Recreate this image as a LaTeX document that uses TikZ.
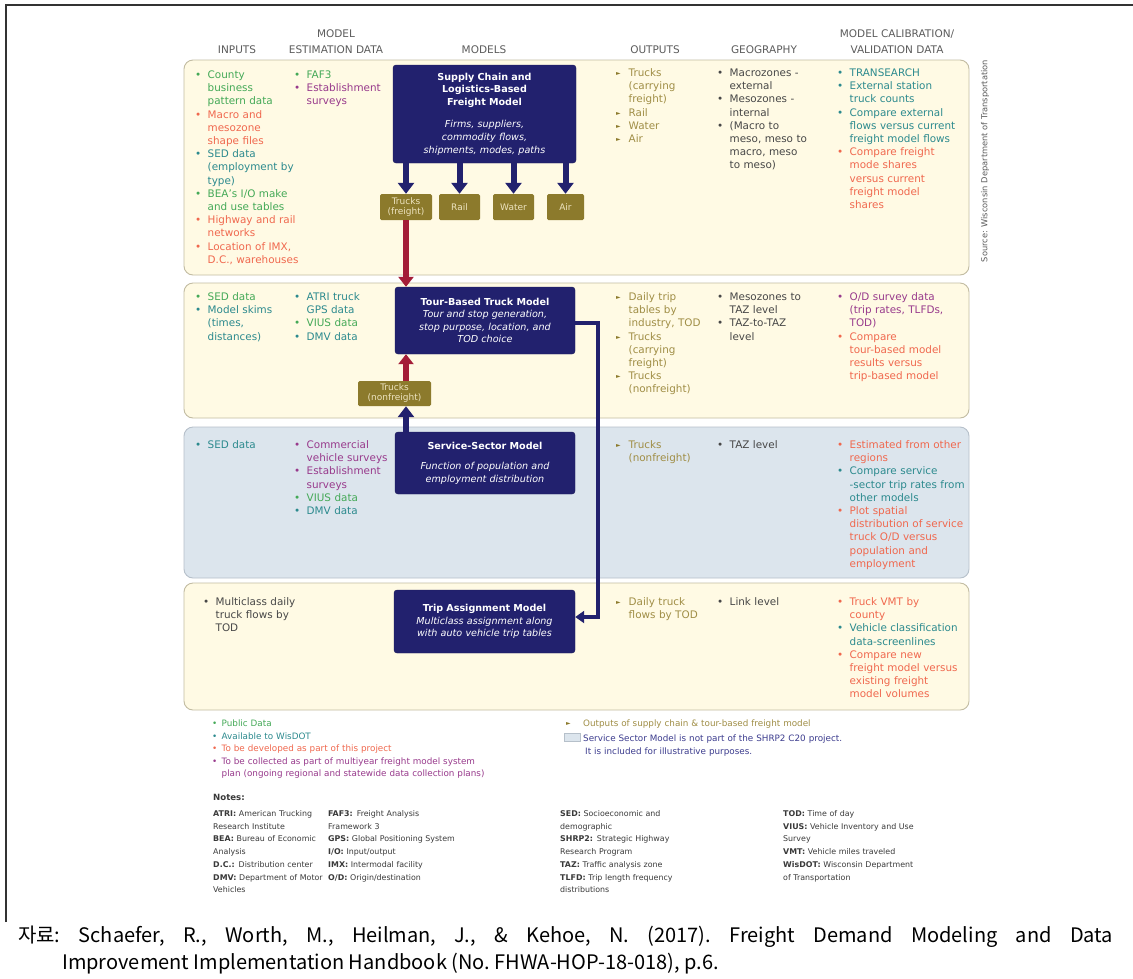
\documentclass[tikz,border=0pt]{standalone}
\usepackage{fontspec}
\setmainfont{DejaVu Sans}
\newfontfamily\kofont{Noto Sans CJK KR}
\usetikzlibrary{arrows.meta}

\definecolor{bandY}{HTML}{FFFAE4}
\definecolor{bandYline}{HTML}{C2BCA2}
\definecolor{bandB}{HTML}{DCE5ED}
\definecolor{bandBline}{HTML}{B6C0CA}
\definecolor{navy}{HTML}{22216E}
\definecolor{olive}{HTML}{8C7A2C}
\definecolor{olivetxt}{HTML}{A08E46}
\definecolor{olivelight}{HTML}{EDE3BF}
\definecolor{arrowred}{HTML}{A41D38}
\definecolor{cgreen}{HTML}{44A957}
\definecolor{cteal}{HTML}{2C8A8E}
\definecolor{corange}{HTML}{F0684E}
\definecolor{cpurple}{HTML}{983A8C}
\definecolor{cgray}{HTML}{474747}
\definecolor{hdr}{HTML}{5C5C5C}
\definecolor{notetxt}{HTML}{3A3A3A}
\definecolor{legnavy}{HTML}{3C3C8E}
\definecolor{frame}{HTML}{333333}

% bullet list items with a hanging indent; each item is its own paragraph
\newlength\bind
\setlength\bind{12.5pt}
\newcommand\li[2]{\noindent\hangindent=\bind\hangafter=1\relax
  \makebox[\bind][l]{\textcolor{#1}{•}}\textcolor{#1}{#2}\par}
\newcommand\tri{\raisebox{0.8pt}{\fontsize{6}{6}\selectfont ►}}
\newcommand\lo[1]{\noindent\hangindent=\bind\hangafter=1\relax
  \makebox[\bind][l]{\textcolor{olive}{\tri}}\textcolor{olivetxt}{#1}\par}

\tikzset{
  colhead/.style={text=hdr, font=\fontsize{10.5}{16}\selectfont, align=center, inner sep=0pt},
  items/.style={anchor=base west, inner sep=0pt, text width=#1, align=left,
    font=\fontsize{10.4}{13.2}\selectfont},
  items/.default=130pt,
  yband/.style={fill=bandY, draw=bandYline, line width=0.9pt, rounded corners=9pt},
  bband/.style={fill=bandB, draw=bandBline, line width=0.9pt, rounded corners=9pt},
  modelbox/.style={fill=navy, draw=navy!80!black, rounded corners=3pt, inner sep=0pt,
    text=white, align=center, font=\fontsize{9.6}{12.6}\selectfont},
  obox/.style={fill=olive, text=olivelight, rounded corners=1.5pt, inner sep=0pt,
    minimum height=26pt, align=center, font=\fontsize{9}{10}\selectfont},
  navyarrow/.style={draw=navy, line width=6pt, -{Triangle[width=16pt,length=11pt]}},
  redarrow/.style={draw=arrowred, line width=5.5pt, -{Triangle[width=15pt,length=10pt]}},
  linkarrow/.style={draw=navy, line width=4pt, -{Triangle[width=12pt,length=9pt]}},
  legend/.style={anchor=base west, inner sep=0pt, text width=#1, align=left,
    font=\fontsize{8.8}{12.5}\selectfont},
  notes/.style={anchor=base west, inner sep=0pt, text width=220pt, align=left, text=notetxt,
    font=\fontsize{7.9}{12.7}\selectfont},
}

\begin{document}
\begin{tikzpicture}[x=1pt, y=-1pt]
\useasboundingbox (0,0) rectangle (1133,978);
\fill[white] (0,0) rectangle (1133,978);

% outer frame
\draw[frame, line width=1.6pt] (6,922) -- (6,5) -- (1138,5) -- (1138,922);

% bands
\path[yband] (184,60) rectangle (969,275);
\path[yband] (184,283) rectangle (969,418);
\path[bband] (184,427) rectangle (969,578);
\path[yband] (184,583) rectangle (969,710);

% column headings
\node[colhead] (hin)  at (237,50) {INPUTS};
\node[colhead] (hest) at (336,41.5) {MODEL\\ESTIMATION DATA};
\node[colhead] (hmod) at (484,50) {MODELS};
\node[colhead] (hout) at (655,50) {OUTPUTS};
\node[colhead] (hgeo) at (764,50) {GEOGRAPHY};
\node[colhead] (hcal) at (897,41.5) {MODEL CALIBRATION/\\VALIDATION DATA};

\node[rotate=90, text=hdr, inner sep=0pt, font=\fontsize{8.3}{10}\selectfont] (src) at (985,161)
  {Source: Wisconsin Department of Transportation};

% ---- band 1: supply chain model
\node[items=110pt] (in1) at (195,78.5) {%
  \li{cgreen}{County\newline business\newline pattern data}%
  \li{corange}{Macro and\newline mesozone\newline shape files}%
  \li{cteal}{SED data\newline (employment by\newline type)}%
  \li{cgreen}{BEA's I/O make\newline and use tables}%
  \li{corange}{Highway and rail\newline networks}%
  \li{corange}{Location of IMX,\newline D.C., warehouses}};
\node[items=100pt] (es1) at (294,78.5) {%
  \li{cgreen}{FAF3}%
  \li{cpurple}{Establishment\newline surveys}};
\node[items=100pt] (out1) at (616,76.5) {%
  \lo{Trucks\newline (carrying\newline freight)}\lo{Rail}\lo{Water}\lo{Air}};
\node[items=110pt] (geo1) at (717,76.5) {%
  \li{cgray}{Macrozones -\newline external}%
  \li{cgray}{Mesozones -\newline internal}%
  \li{cgray}{(Macro to\newline meso, meso to\newline macro, meso\newline to meso)}};
\node[items=135pt] (cal1) at (837,76.5) {%
  \li{cteal}{TRANSEARCH}%
  \li{cteal}{External station\newline truck counts}%
  \li{cteal}{Compare external\newline flows versus current\newline freight model flows}%
  \li{corange}{Compare freight\newline mode shares\newline versus current\newline freight model\newline shares}};

\node[modelbox, minimum width=183pt, minimum height=98pt, text width=178pt] (sc) at (484.5,114)
  {{\bfseries Supply Chain and\\Logistics-Based\\Freight Model}\\[10pt]
   {\itshape Firms, suppliers,\\commodity flows,\\shipments, modes, paths}};

\node[obox, minimum width=52pt] (tf)  at (406,207) {Trucks\\(freight)};
\node[obox, minimum width=41pt] (rl)  at (459.5,207) {Rail};
\node[obox, minimum width=41pt] (wt)  at (513.5,207) {Water};
\node[obox, minimum width=37pt] (ar)  at (565.5,207) {Air};

\foreach \m in {tf,rl,wt,ar}
  \draw[navyarrow] (sc.south -| \m.north) -- (\m.north);

% ---- band 2: tour-based model
\node[items=100pt] (in2) at (195,300.5) {%
  \li{cgreen}{SED data}%
  \li{cteal}{Model skims\newline (times,\newline distances)}};
\node[items=100pt] (es2) at (294,300.5) {%
  \li{cteal}{ATRI truck\newline GPS data}%
  \li{cgreen}{VIUS data}%
  \li{cteal}{DMV data}};
\node[items=100pt] (out2) at (616,300.5) {%
  \lo{Daily trip\newline tables by\newline industry, TOD}%
  \lo{Trucks\newline (carrying\newline freight)}%
  \lo{Trucks\newline (nonfreight)}};
\node[items=110pt] (geo2) at (717,300.5) {%
  \li{cgray}{Mesozones to\newline TAZ level}%
  \li{cgray}{TAZ-to-TAZ\newline level}};
\node[items=135pt] (cal2) at (837,300.5) {%
  \li{cpurple}{O/D survey data\newline (trip rates, TLFDs,\newline TOD)}%
  \li{corange}{Compare\newline tour-based model\newline results versus\newline trip-based model}};

\node[modelbox, minimum width=180pt, minimum height=67pt, text width=176pt] (tb) at (485,320.5)
  {{\bfseries Tour-Based Truck Model}\\
   {\itshape Tour and stop generation,\\stop purpose, location, and\\TOD choice}};

\node[obox, minimum width=73pt, minimum height=25pt] (tn) at (394.5,393.5) {Trucks\\(nonfreight)};

\draw[redarrow] (tf.south) -- (tf.south |- tb.north);
\draw[redarrow] (tn.north -| tf.south) -- (tb.south -| tf.south);

% ---- band 3: service-sector model
\node[items=100pt] (in3) at (195,448.5) {%
  \li{cteal}{SED data}};
\node[items=110pt] (es3) at (294,448.5) {%
  \li{cpurple}{Commercial\newline vehicle surveys}%
  \li{cpurple}{Establishment\newline surveys}%
  \li{cgreen}{VIUS data}%
  \li{cteal}{DMV data}};
\node[items=100pt] (out3) at (616,448.5) {%
  \lo{Trucks\newline (nonfreight)}};
\node[items=110pt] (geo3) at (717,448.5) {%
  \li{cgray}{TAZ level}};
\node[items=135pt] (cal3) at (837,448.5) {%
  \li{corange}{Estimated from other\newline regions}%
  \li{cteal}{Compare service\newline -sector trip rates from\newline other models}%
  \li{corange}{Plot spatial\newline distribution of service\newline truck O/D versus\newline population and\newline employment}};

\node[modelbox, minimum width=180pt, minimum height=62pt, text width=176pt] (ss) at (485,463)
  {{\bfseries Service-Sector Model}\\[8pt]
   {\itshape Function of population and\\employment distribution}};

\draw[navyarrow] (ss.north -| tf.south) -- (tn.south -| tf.south);

% ---- band 4: trip assignment
\node[items=100pt] (in4) at (203,605.5) {%
  \li{cgray}{Multiclass daily\newline truck flows by\newline TOD}};
\node[items=100pt] (out4) at (616,605.5) {%
  \lo{Daily truck\newline flows by TOD}};
\node[items=110pt] (geo4) at (717,605.5) {%
  \li{cgray}{Link level}};
\node[items=135pt] (cal4) at (837,605.5) {%
  \li{corange}{Truck VMT by\newline county}%
  \li{cteal}{Vehicle classification\newline data-screenlines}%
  \li{corange}{Compare new\newline freight model versus\newline existing freight\newline model volumes}};

\node[modelbox, minimum width=181pt, minimum height=63pt, text width=176pt] (ta) at (484.5,621.5)
  {{\bfseries Trip Assignment Model}\\
   {\itshape Multiclass assignment along\\with auto vehicle trip tables}};

% tour-based output feeds the assignment
\coordinate (k1) at (598,323);
\coordinate (k2) at (598,617);
\draw[linkarrow] (tb.east |- k1) -- (k1) -- (k2) -- (ta.east |- k2);

% ---- legend
\setlength\bind{9.5pt}
\node[legend=330pt] (legL) at (212,726.5) {%
  \li{cgreen}{Public Data}%
  \li{cteal}{Available to WisDOT}%
  \li{corange}{To be developed as part of this project}%
  \li{cpurple}{To be collected as part of multiyear freight model system\newline plan (ongoing regional and statewide data collection plans)}};
\node[legend=360pt] (legR) at (566,726.5) {%
  \noindent\makebox[17pt][l]{\textcolor{olive}{\tri}}\textcolor{olivetxt}{Outputs of supply chain \& tour-based freight model}};
\node[fill=bandB, draw=bandBline, line width=0.6pt, minimum width=16pt, minimum height=8pt, inner sep=0pt] (sw) at (572,737.5) {};
\node[legend=360pt, text=legnavy] (legS) at (583,741.5) {%
  Service Sector Model is not part of the SHRP2 C20 project.\newline
  \hspace*{2pt}It is included for illustrative purposes.};

% ---- abbreviations
\node[notes, font=\fontsize{8.6}{12}\selectfont\bfseries] (nh) at (213,800.5) {Notes:};
\node[notes] (n1) at (213,816.5) {%
  \textbf{ATRI:} American Trucking\\Research Institute\\\textbf{BEA:} Bureau of Economic\\Analysis\\%
  \textbf{D.C.:} Distribution center\\\textbf{DMV:} Department of Motor\\Vehicles};
\node[notes] (n2) at (328,816.5) {%
  \textbf{FAF3:} Freight Analysis\\Framework 3\\\textbf{GPS:} Global Positioning System\\%
  \textbf{I/O:} Input/output\\\textbf{IMX:} Intermodal facility\\\textbf{O/D:} Origin/destination};
\node[notes] (n3) at (560,816.5) {%
  \textbf{SED:} Socioeconomic and\\demographic\\\textbf{SHRP2:} Strategic Highway\\Research Program\\%
  \textbf{TAZ:} Traffic analysis zone\\\textbf{TLFD:} Trip length frequency\\distributions};
\node[notes] (n4) at (783,816.5) {%
  \textbf{TOD:} Time of day\\\textbf{VIUS:} Vehicle Inventory and Use\\Survey\\%
  \textbf{VMT:} Vehicle miles traveled\\\textbf{WisDOT:} Wisconsin Department\\of Transportation};

% ---- source line
\node[anchor=base west, inner sep=0pt, font=\kofont\fontsize{20}{24}\selectfont\frenchspacing] (cap1) at (18,942)
  {\makebox[1095pt][s]{자료: Schaefer, R., Worth, M., Heilman, J., \& Kehoe, N. (2017). Freight Demand Modeling and Data}};
\node[anchor=base west, inner sep=0pt, font=\kofont\fontsize{20}{24}\selectfont\frenchspacing] (cap2) at (62,969)
  {Improvement Implementation Handbook (No. FHWA-HOP-18-018), p.6.};
\end{tikzpicture}
\end{document}
